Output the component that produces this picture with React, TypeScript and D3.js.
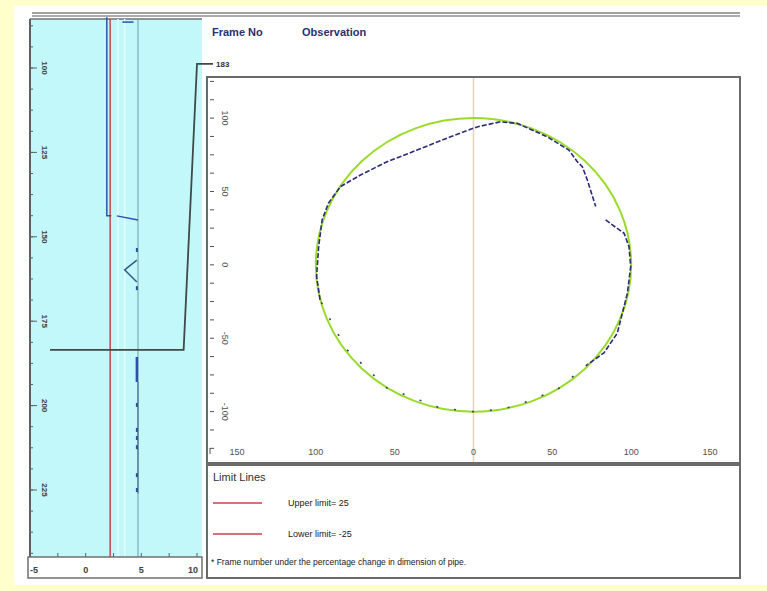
import * as d3 from "d3";

// left strip: frame number vs. percentage change (x10)
const leftTicks = [-5, 0, 5, 10];
const frameTicks = [100, 125, 150, 175, 200, 225];
const upperLimitPos = 2.2;
const baseLine = 4.7;
const guideLines = [2.9, 3.5];
const selectedFrame = 183.5;
const selectedLabel = "183";

// left traces, [value, frame]
const traceA: [number, number][] = [[1.9, 85], [1.9, 143.8], [2.3, 143.8]];
const traceB: [number, number][] = [[3.3, 86.4], [4.3, 86.4]];
const traceC: [number, number][] = [[2.8, 143.8], [4.7, 145]];
const traceV: [number, number][] = [[4.6, 156.9], [3.5, 159.8], [4.6, 163.4]];
const traceD: [number, number][] = [[4.6, 185.6], [4.6, 193]];
const traceDots: [number, number][] = [
  [4.6, 153.9], [4.6, 165.2], [4.6, 199.8], [4.6, 207.2],
  [4.6, 209.6], [4.6, 212.3], [4.6, 220.6], [4.6, 225],
];

// right plot: cross-section of pipe (percent of nominal)
const nominalRadius = 100;
const xTicks = [-150, -100, -50, 0, 50, 100, 150];
const yTicks = [100, 50, 0, -50, -100];
const obsX = [-97.3, -99.5, -98.2, -96, -92, -84.4, -71.7, -54.8, -35.8, -14.6, 2.3, 17.1, 27.7, 46.7, 60.5, 65.8, 69, 72.2, 77.5, NaN, 83.8, 95.5, 98.6, 99.7, 97.6, 91.2, 82.7, 72.2];
const obsY = [-23.8, -7.9, 12.4, 30.6, 42, 53.3, 61.2, 70.3, 78.2, 87.3, 94, 97.5, 96.4, 87.3, 78.2, 70.3, 66.9, 57.8, 39.7, NaN, 30.6, 21.5, 12.4, -1, -19.3, -46.5, -60, -68];
const lowX = [72.2, 53.1, 31.9, 19.2, 0, -21, -54.8, -80.2, -88.7, -97.3];
const lowY = [-68, -85, -94, -98.2, -100, -97.5, -83.9, -57.8, -41.9, -23.8];

const legendItems = ["Upper limit= 25", "Lower limit= -25"];
const footnote = "* Frame number under the percentage change in dimension of pipe.";

const font = "'Liberation Sans', Arial, sans-serif";

export default function App() {
  const xL = d3.scaleLinear().domain([-5, 10]).range([30, 197]);
  const yL = d3.scaleLinear().domain([100, 225]).range([68, 490]);
  const xR = d3.scaleLinear().domain([-169, 169]).range([207, 740]);
  const yR = d3.scaleLinear().domain([-135, 128]).range([463, 77]);

  const lineL = d3.line<[number, number]>().x((d) => xL(d[0])).y((d) => yL(d[1]));
  const obsLine = d3
    .line<number>()
    .defined((i) => !isNaN(obsX[i]))
    .x((i) => xR(obsX[i]))
    .y((i) => yR(obsY[i]));
  const lowLine = d3
    .line<number>()
    .x((i) => xR(lowX[i]))
    .y((i) => yR(lowY[i]));

  const minorFrames = d3.range(87.5, 245, 6.25);
  const minorLeft = d3.range(-5, 10.1, 2.5);
  const minorY = d3.range(-125, 126, 12.5);

  const ySel = yL(selectedFrame);

  return (
    <svg width={767} height={591} style={{ position: "absolute", left: 0, top: 0 }} fontFamily={font}>
      <rect x={0} y={0} width={767} height={591} fill="#FFFFCC" />
      <rect x={14} y={6} width={753} height={579} fill="#FFFFFF" />

      {/* top rule */}
      <line x1={32} x2={740} y1={13} y2={13} stroke="#808080" strokeWidth={1.5} />
      <line x1={32} x2={740} y1={16} y2={16} stroke="#909090" strokeWidth={1.5} />

      {/* left strip */}
      <rect x={30} y={19} width={172} height={538} fill="#C2F8FA" />
      <line x1={30} x2={202} y1={19} y2={19} stroke="#707070" strokeWidth={1.5} />
      {guideLines.map((g) => (
        <line key={g} x1={xL(g)} x2={xL(g)} y1={19} y2={557} stroke="#E2FFFF" strokeWidth={1.5} />
      ))}
      <line x1={xL(baseLine)} x2={xL(baseLine)} y1={19} y2={557} stroke="#6E9EA4" strokeWidth={1} />
      <line x1={xL(upperLimitPos)} x2={xL(upperLimitPos)} y1={19} y2={557} stroke="#C8424A" strokeWidth={1.5} />
      {[traceA, traceB, traceC, traceV, traceD].map((t, i) => (
        <path key={i} d={lineL(t) ?? ""} fill="none" stroke={i === 3 ? "#3A5A8A" : "#2D4FB0"} strokeWidth={i === 4 ? 2.5 : 1.5} />
      ))}
      {traceDots.map((d, i) => (
        <rect key={i} x={xL(d[0]) - 1} y={yL(d[1]) - 2} width={2} height={4} fill="#2D4F90" />
      ))}
      <line x1={xL(baseLine)} x2={xL(baseLine)} y1={yL(193)} y2={yL(226)} stroke="#3A5A8A" strokeWidth={1} />

      {/* selected frame connector */}
      <path
        d={`M${xL(-3.2)},${ySel}H${xL(8.8)}L${xL(10)},${yR(137)}H213`}
        fill="none"
        stroke="#404848"
        strokeWidth={1.8}
      />
      <text x={216} y={yR(137) + 3} fontSize={8} fontWeight="bold" fill="#303030">{selectedLabel}</text>

      {/* left y axis */}
      <line x1={30} x2={30} y1={19} y2={557} stroke="#606060" strokeWidth={2} />
      {minorFrames.map((f) => (
        <line key={f} x1={30} x2={33} y1={yL(f)} y2={yL(f)} stroke="#606060" />
      ))}
      {frameTicks.map((f) => (
        <g key={f} transform={`translate(${41},${yL(f)}) rotate(90)`}>
          <line x1={0} x2={0} y1={11} y2={4} stroke="#606060" />
          <text textAnchor="middle" y={-1} fontSize={8} fontWeight="bold" fill="#404040">{f}</text>
        </g>
      ))}

      {/* left x axis */}
      <rect x={28} y={557} width={174} height={21} fill="#FFFFFF" stroke="#707070" strokeWidth={1.5} />
      {minorLeft.map((v) => (
        <line key={v} x1={xL(v)} x2={xL(v)} y1={557} y2={553} stroke="#606060" />
      ))}
      {leftTicks.map((v) => (
        <text key={v} x={xL(v) + (v === -5 ? 4 : v === 10 ? -4 : 0)} y={573} textAnchor="middle" fontSize={9} fontWeight="bold" fill="#404040">
          {v}
        </text>
      ))}

      {/* header */}
      <text x={212} y={36} fontSize={11} fontWeight="bold" fill="#2B2F6E">Frame No</text>
      <text x={302} y={36} fontSize={11} fontWeight="bold" fill="#2B2F6E">Observation</text>

      {/* right plot */}
      <rect x={207} y={77} width={533} height={386} fill="#FFFFFF" stroke="#6A6A6A" strokeWidth={2} />
      <line x1={xR(0)} x2={xR(0)} y1={78} y2={462} stroke="#E6D2B6" strokeWidth={1.5} />
      <ellipse
        cx={xR(0)}
        cy={yR(0)}
        rx={xR(nominalRadius) - xR(0)}
        ry={yR(0) - yR(nominalRadius)}
        fill="none"
        stroke="#9ADB2A"
        strokeWidth={2}
      />
      <path d={obsLine(d3.range(obsX.length)) ?? ""} fill="none" stroke="#2B2B7A" strokeWidth={1.6} strokeDasharray="5,2" />
      <path d={lowLine(d3.range(lowX.length)) ?? ""} fill="none" stroke="#3A3A6A" strokeWidth={1.6} strokeDasharray="2,16" />

      {minorY.map((v) => (
        <line key={v} x1={210} x2={214} y1={yR(v)} y2={yR(v)} stroke="#505050" />
      ))}
      {yTicks.map((v) => (
        <g key={v} transform={`translate(${222},${yR(v)}) rotate(90)`}>
          <text textAnchor="middle" y={0} fontSize={9} fill="#505050">{v}</text>
        </g>
      ))}
      <line x1={210} x2={210} y1={448} y2={454} stroke="#505050" />
      {xTicks.map((v) => (
        <text key={v} x={xR(v)} y={455} textAnchor="middle" fontSize={9} fill="#505050">
          {Math.abs(v)}
        </text>
      ))}

      {/* legend */}
      <rect x={207} y={465} width={533} height={113} fill="#FFFFFF" stroke="#6A6A6A" strokeWidth={2} />
      <text x={213} y={481} fontSize={11} fill="#303030">Limit Lines</text>
      {legendItems.map((t, i) => (
        <g key={t} transform={`translate(0,${503 + i * 31})`}>
          <line x1={213} x2={262} y1={0} y2={0} stroke="#C8424A" strokeWidth={1.5} />
          <text x={288} y={3} fontSize={9} fill="#202020">{t}</text>
        </g>
      ))}
      <text x={211} y={565} fontSize={8.5} fill="#202020">{footnote}</text>
    </svg>
  );
}
